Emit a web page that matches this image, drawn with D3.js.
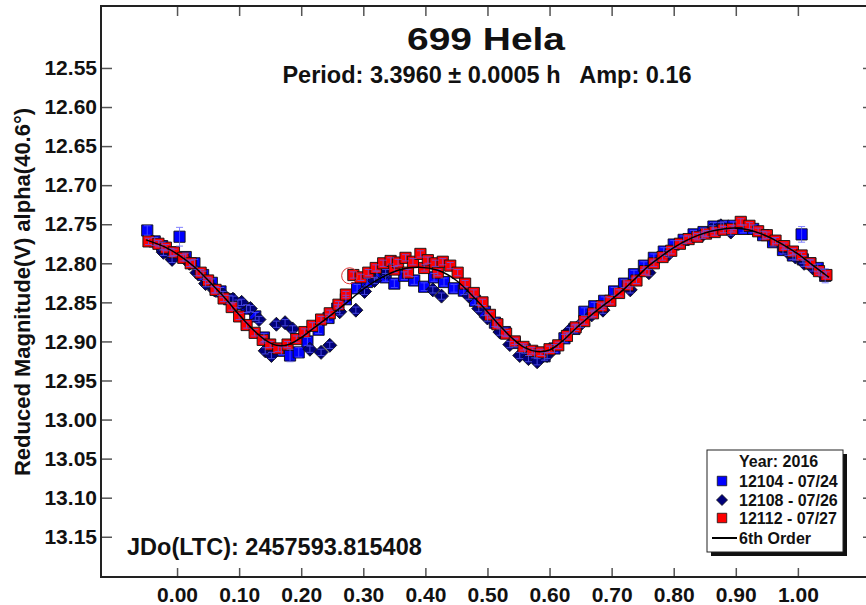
<!DOCTYPE html>
<html>
<head>
<meta charset="utf-8">
<script src="https://cdn.jsdelivr.net/npm/d3@7"></script>
<style>
  html, body { margin: 0; padding: 0; background: #fff; }
  #chart { width: 866px; height: 605px; }
  text { font-family: "Liberation Sans", Arial, sans-serif; font-weight: bold; fill: #111; white-space: pre; }
</style>
</head>
<body>
<div id="chart"></div>
<script>
// ====== data (phase, reduced mag, error) ======
const series12104 = [ // blue squares, 07/24
  [-0.048, 12.758, 0.006], [-0.036, 12.772, 0.005], [-0.024, 12.778, 0.005], [-0.010, 12.786, 0.005],
  [0.004, 12.766, 0.012], [0.014, 12.792, 0.005], [0.028, 12.800, 0.005], [0.042, 12.815, 0.005],
  [0.056, 12.825, 0.005], [0.070, 12.836, 0.005], [0.084, 12.846, 0.005], [0.098, 12.852, 0.005],
  [0.112, 12.858, 0.005], [0.126, 12.868, 0.005], [0.140, 12.895, 0.005], [0.168, 12.912, 0.005],
  [0.182, 12.918, 0.008], [0.196, 12.914, 0.006], [0.210, 12.900, 0.005], [0.228, 12.885, 0.005],
  [0.244, 12.870, 0.005], [0.258, 12.858, 0.005], [0.272, 12.846, 0.005], [0.290, 12.832, 0.005],
  [0.306, 12.824, 0.005], [0.322, 12.815, 0.005], [0.336, 12.818, 0.005], [0.350, 12.826, 0.005],
  [0.366, 12.816, 0.005], [0.382, 12.822, 0.005], [0.398, 12.830, 0.005], [0.414, 12.818, 0.005],
  [0.430, 12.824, 0.005], [0.446, 12.832, 0.005], [0.462, 12.835, 0.005], [0.480, 12.848, 0.005],
  [0.496, 12.862, 0.005], [0.512, 12.876, 0.005], [0.528, 12.888, 0.005], [0.544, 12.902, 0.005],
  [0.560, 12.910, 0.005], [0.576, 12.916, 0.005], [0.592, 12.919, 0.005], [0.608, 12.909, 0.005],
  [0.624, 12.896, 0.005], [0.640, 12.884, 0.005], [0.656, 12.862, 0.005], [0.672, 12.855, 0.005],
  [0.688, 12.848, 0.005], [0.704, 12.836, 0.005], [0.720, 12.826, 0.005], [0.736, 12.814, 0.005],
  [0.752, 12.803, 0.005], [0.768, 12.793, 0.005], [0.784, 12.785, 0.005], [0.800, 12.776, 0.005],
  [0.816, 12.770, 0.005], [0.832, 12.763, 0.005], [0.848, 12.760, 0.005], [0.864, 12.753, 0.005],
  [0.880, 12.752, 0.005], [0.896, 12.752, 0.005], [0.912, 12.756, 0.005], [0.928, 12.756, 0.005],
  [0.944, 12.764, 0.005], [0.960, 12.773, 0.005], [0.976, 12.783, 0.005], [0.992, 12.790, 0.005],
  [1.006, 12.763, 0.010], [1.008, 12.795, 0.005], [1.020, 12.800, 0.005], [1.032, 12.806, 0.005],
  [1.044, 12.816, 0.009]
];

const series12108 = [ // navy diamonds, 07/26
  [-0.022, 12.786, 0.004], [-0.008, 12.795, 0.004], [0.020, 12.800, 0.004], [0.032, 12.812, 0.004],
  [0.046, 12.826, 0.004], [0.060, 12.834, 0.004], [0.074, 12.840, 0.004], [0.090, 12.846, 0.004],
  [0.104, 12.850, 0.004], [0.118, 12.858, 0.004], [0.132, 12.872, 0.004], [0.142, 12.912, 0.004],
  [0.152, 12.918, 0.004], [0.160, 12.878, 0.004], [0.174, 12.876, 0.004], [0.186, 12.884, 0.004],
  [0.214, 12.910, 0.004], [0.232, 12.914, 0.004], [0.246, 12.905, 0.004], [0.262, 12.862, 0.004],
  [0.288, 12.860, 0.004], [0.302, 12.836, 0.004], [0.318, 12.822, 0.004], [0.336, 12.812, 0.004],
  [0.412, 12.834, 0.004], [0.426, 12.842, 0.004], [0.470, 12.842, 0.004], [0.486, 12.858, 0.004],
  [0.500, 12.870, 0.004], [0.520, 12.888, 0.004], [0.536, 12.904, 0.004], [0.552, 12.918, 0.004],
  [0.566, 12.922, 0.004], [0.580, 12.926, 0.004], [0.596, 12.918, 0.004], [0.632, 12.886, 0.004],
  [0.650, 12.878, 0.004], [0.668, 12.866, 0.004], [0.686, 12.860, 0.004], [0.730, 12.834, 0.004],
  [0.760, 12.812, 0.004], [0.792, 12.788, 0.004], [0.846, 12.764, 0.004], [0.862, 12.756, 0.004],
  [0.876, 12.752, 0.004], [0.892, 12.760, 0.004], [0.984, 12.786, 0.004], [0.996, 12.792, 0.004],
  [1.010, 12.800, 0.004], [1.024, 12.806, 0.004], [1.038, 12.812, 0.004]
];

const series12112 = [ // red squares, 07/27
  [-0.046, 12.772, 0.004], [-0.030, 12.775, 0.004], [-0.018, 12.780, 0.004], [-0.005, 12.786, 0.004],
  [0.010, 12.793, 0.004], [0.022, 12.800, 0.004], [0.038, 12.812, 0.004], [0.050, 12.822, 0.004],
  [0.062, 12.834, 0.004], [0.075, 12.845, 0.004], [0.088, 12.856, 0.004], [0.100, 12.868, 0.004],
  [0.112, 12.879, 0.004], [0.125, 12.889, 0.004], [0.138, 12.898, 0.004], [0.150, 12.904, 0.004],
  [0.163, 12.909, 0.004], [0.178, 12.904, 0.004], [0.192, 12.897, 0.004], [0.205, 12.888, 0.004],
  [0.218, 12.880, 0.004], [0.232, 12.872, 0.004], [0.246, 12.864, 0.004], [0.260, 12.853, 0.004],
  [0.272, 12.840, 0.004], [0.284, 12.815, 0.004], [0.296, 12.818, 0.004], [0.308, 12.812, 0.004],
  [0.320, 12.806, 0.004], [0.332, 12.800, 0.004], [0.344, 12.797, 0.004], [0.350, 12.808, 0.004],
  [0.356, 12.799, 0.004], [0.368, 12.793, 0.004], [0.372, 12.812, 0.004], [0.380, 12.798, 0.004],
  [0.392, 12.788, 0.004], [0.398, 12.806, 0.004], [0.404, 12.796, 0.004], [0.416, 12.800, 0.004],
  [0.420, 12.812, 0.004], [0.428, 12.798, 0.004], [0.440, 12.803, 0.004], [0.452, 12.812, 0.004],
  [0.464, 12.826, 0.004], [0.478, 12.838, 0.004], [0.492, 12.850, 0.004], [0.504, 12.866, 0.004],
  [0.516, 12.878, 0.004], [0.530, 12.890, 0.004], [0.544, 12.900, 0.004], [0.558, 12.907, 0.004],
  [0.572, 12.912, 0.004], [0.586, 12.914, 0.004], [0.600, 12.910, 0.004], [0.614, 12.905, 0.004],
  [0.628, 12.893, 0.004], [0.642, 12.882, 0.004], [0.656, 12.874, 0.004], [0.670, 12.864, 0.004],
  [0.684, 12.855, 0.004], [0.698, 12.848, 0.004], [0.712, 12.838, 0.004], [0.726, 12.828, 0.004],
  [0.740, 12.822, 0.004], [0.754, 12.810, 0.004], [0.768, 12.800, 0.004], [0.782, 12.792, 0.004],
  [0.796, 12.784, 0.004], [0.810, 12.775, 0.004], [0.824, 12.769, 0.004], [0.838, 12.766, 0.004],
  [0.852, 12.762, 0.004], [0.866, 12.760, 0.004], [0.880, 12.757, 0.004], [0.894, 12.756, 0.004],
  [0.908, 12.747, 0.004], [0.922, 12.752, 0.004], [0.936, 12.759, 0.004], [0.950, 12.764, 0.004],
  [0.964, 12.771, 0.004], [0.978, 12.778, 0.004], [0.992, 12.785, 0.004], [1.006, 12.790, 0.004],
  [1.020, 12.800, 0.004], [1.034, 12.810, 0.004], [1.046, 12.815, 0.004]
];

// the one circled (rejected) point
const flaggedPoints = [[0.278, 12.816]];

// 6th order Fourier fit
const fitCurve = [
  [-0.05, 12.770], [-0.02, 12.779], [0.00, 12.788], [0.03, 12.806], [0.06, 12.830], [0.08, 12.847],
  [0.10, 12.866], [0.12, 12.883], [0.14, 12.897], [0.16, 12.905], [0.18, 12.904], [0.20, 12.895],
  [0.22, 12.883], [0.25, 12.865], [0.28, 12.846], [0.30, 12.833], [0.33, 12.818], [0.36, 12.808],
  [0.39, 12.805], [0.42, 12.809], [0.45, 12.822], [0.48, 12.845], [0.50, 12.862], [0.52, 12.880],
  [0.54, 12.896], [0.56, 12.908], [0.58, 12.913], [0.60, 12.911], [0.62, 12.900], [0.64, 12.885],
  [0.66, 12.871], [0.68, 12.858], [0.70, 12.846], [0.72, 12.833], [0.74, 12.818], [0.76, 12.803],
  [0.78, 12.791], [0.80, 12.780], [0.82, 12.771], [0.84, 12.764], [0.86, 12.759], [0.88, 12.756],
  [0.90, 12.755], [0.92, 12.757], [0.94, 12.762], [0.96, 12.769], [0.98, 12.778], [1.00, 12.788],
  [1.02, 12.800], [1.04, 12.812], [1.05, 12.818]
];

const xTicks = [0.0, 0.1, 0.2, 0.3, 0.4, 0.5, 0.6, 0.7, 0.8, 0.9, 1.0];
const yTicks = [12.55, 12.60, 12.65, 12.70, 12.75, 12.80, 12.85, 12.90, 12.95, 13.00, 13.05, 13.10, 13.15];
const legendLabels = ["12104 - 07/24", "12108 - 07/26", "12112 - 07/27", "6th Order"];

const titleText = "699 Hela";
const subtitleText = "Period: 3.3960 \u00b1 0.0005 h   Amp: 0.16";
const jdText = "JDo(LTC): 2457593.815408";
const yLabel = "Reduced Magnitude(V) alpha(40.6\u00b0)";


class LightCurve {
  constructor(id) {
    this.id = id;
    this.initSVG();
    this.initScales();
    this.drawAxes();
    this.drawPoints();
    this.drawText();
    this.addLegend();
  }

  initSVG() {
    const div = d3.select(`#${this.id}`);
    this.width  = 866;
    this.height = 605;
    // frame box (right edge runs off the picture)
    this.box = { left: 101, top: 6, right: 873, bottom: 577 };

    this.svg = div.append("svg")
      .attr("width",  this.width)
      .attr("height", this.height);
  }

  initScales() {
    this.x = d3.scaleLinear()
      .domain([-0.1225, 1.121])
      .range([this.box.left, this.box.right]);
    // magnitudes: brighter at top
    this.y = d3.scaleLinear()
      .domain([12.4707, 13.2015])
      .range([this.box.top, this.box.bottom]);
  }

  drawAxes() {
    const b = this.box;
    const tickStyle = g => {
      g.select(".domain").remove();
      g.selectAll(".tick line").attr("stroke", "#555").attr("stroke-width", 1.5);
      g.selectAll(".tick text").style("font-size", "21px").attr("fill", "#111");
    };

    this.svg.append("g")
      .attr("transform", `translate(0,${b.bottom})`)
      .call(d3.axisBottom(this.x).tickValues(xTicks).tickFormat(d3.format(".2f"))
        .tickSize(-9).tickPadding(10))
      .call(tickStyle);

    this.svg.append("g")
      .attr("transform", `translate(0,${b.top})`)
      .call(d3.axisTop(this.x).tickValues(xTicks).tickFormat("").tickSize(-10))
      .call(tickStyle);

    this.svg.append("g")
      .attr("transform", `translate(${b.left},0)`)
      .call(d3.axisLeft(this.y).tickValues(yTicks).tickFormat(d3.format(".2f"))
        .tickSize(-11).tickPadding(4))
      .call(tickStyle);

    this.svg.append("g")
      .attr("transform", `translate(${b.right},0)`)
      .call(d3.axisRight(this.y).tickValues(yTicks).tickFormat("").tickSize(-10))
      .call(tickStyle);

    // frame
    this.svg.append("rect")
      .attr("x", b.left).attr("y", b.top)
      .attr("width", b.right - b.left).attr("height", b.bottom - b.top)
      .attr("fill", "none")
      .attr("stroke", "#222")
      .attr("stroke-width", 2);
  }

  drawPoints() {
    const x = this.x, y = this.y;
    const plot = this.svg.append("g");

    const square = d3.symbol().type(d3.symbolSquare).size(125);
    const diamond = "M0,-7L7,0L0,7L-7,0Z";

    const groups = [
      { data: series12104, fill: "#0000ff", shape: square() },
      { data: series12108, fill: "#00007a", shape: diamond },
      { data: series12112, fill: "#ff0000", shape: square() }
    ];

    groups.forEach(s => {
      plot.append("g").selectAll("path")
        .data(s.data)
        .join("path")
        .attr("transform", d => `translate(${x(d[0])},${y(d[1])})`)
        .attr("d", s.shape)
        .attr("fill", s.fill)
        .attr("stroke", "#111")
        .attr("stroke-width", 0.9);
    });

    // error bars on top, thin blue
    const allPts = series12104.concat(series12108, series12112);
    const eb = plot.append("g")
      .attr("stroke", "#5a5aff")
      .attr("stroke-width", 1)
      .attr("opacity", 0.75);
    eb.selectAll("line.v")
      .data(allPts)
      .join("line")
      .attr("class", "v")
      .attr("x1", d => x(d[0])).attr("x2", d => x(d[0]))
      .attr("y1", d => y(d[1] - d[2])).attr("y2", d => y(d[1] + d[2]));
    eb.selectAll("line.top")
      .data(allPts)
      .join("line")
      .attr("class", "top")
      .attr("x1", d => x(d[0]) - 3.5).attr("x2", d => x(d[0]) + 3.5)
      .attr("y1", d => y(d[1] - d[2])).attr("y2", d => y(d[1] - d[2]));
    eb.selectAll("line.bot")
      .data(allPts)
      .join("line")
      .attr("class", "bot")
      .attr("x1", d => x(d[0]) - 3.5).attr("x2", d => x(d[0]) + 3.5)
      .attr("y1", d => y(d[1] + d[2])).attr("y2", d => y(d[1] + d[2]));

    // circled point
    plot.selectAll("circle.flag")
      .data(flaggedPoints)
      .join("circle")
      .attr("class", "flag")
      .attr("cx", d => x(d[0])).attr("cy", d => y(d[1]))
      .attr("r", 8)
      .attr("fill", "none")
      .attr("stroke", "#e03030")
      .attr("stroke-width", 1);

    // fit line
    const line = d3.line()
      .x(d => x(d[0]))
      .y(d => y(d[1]))
      .curve(d3.curveCatmullRom);
    plot.append("path")
      .datum(fitCurve)
      .attr("d", line)
      .attr("fill", "none")
      .attr("stroke", "#000")
      .attr("stroke-width", 1.5);
  }

  drawText() {
    this.svg.append("text")
      .attr("x", 486).attr("y", 50)
      .attr("text-anchor", "middle")
      .attr("textLength", 158)
      .attr("lengthAdjust", "spacingAndGlyphs")
      .style("font-size", "32px")
      .text(titleText);

    this.svg.append("text")
      .attr("x", 487).attr("y", 83)
      .attr("text-anchor", "middle")
      .style("font-size", "23.5px")
      .text(subtitleText);

    this.svg.append("text")
      .attr("x", 127).attr("y", 555)
      .style("font-size", "23.5px")
      .text(jdText);

    this.svg.append("text")
      .attr("transform", "translate(30,292) rotate(-90)")
      .attr("text-anchor", "middle")
      .style("font-size", "22px")
      .text(yLabel);
  }

  addLegend() {
    const lx = 707, ly = 450, lw = 136, lh = 102;
    const g = this.svg.append("g");

    // drop shadow + box
    g.append("rect")
      .attr("x", lx + 4).attr("y", ly + 4)
      .attr("width", lw).attr("height", lh)
      .attr("fill", "#111");
    g.append("rect")
      .attr("x", lx).attr("y", ly)
      .attr("width", lw).attr("height", lh)
      .attr("fill", "#fff")
      .attr("stroke", "#222")
      .attr("stroke-width", 1);

    g.append("text")
      .attr("x", 739).attr("y", 467)
      .style("font-size", "16px")
      .text("Year: 2016");

    const rowY = [487, 506, 524, 544];
    const mk = [
      { fill: "#0000ff", d: d3.symbol().type(d3.symbolSquare).size(90)() },
      { fill: "#00007a", d: "M0,-5.5L5.5,0L0,5.5L-5.5,0Z" },
      { fill: "#ff0000", d: d3.symbol().type(d3.symbolSquare).size(90)() }
    ];

    legendLabels.forEach((lab, i) => {
      if (i < 3) {
        g.append("path")
          .attr("transform", `translate(722,${rowY[i] - 6})`)
          .attr("d", mk[i].d)
          .attr("fill", mk[i].fill)
          .attr("stroke", "#111")
          .attr("stroke-width", 0.8);
      } else {
        g.append("line")
          .attr("x1", 712).attr("x2", 737)
          .attr("y1", rowY[i] - 6).attr("y2", rowY[i] - 6)
          .attr("stroke", "#000")
          .attr("stroke-width", 2);
      }
      g.append("text")
        .attr("x", 739).attr("y", rowY[i])
        .style("font-size", "16px")
        .text(lab);
    });
  }
}

new LightCurve("chart");
</script>
</body>
</html>
